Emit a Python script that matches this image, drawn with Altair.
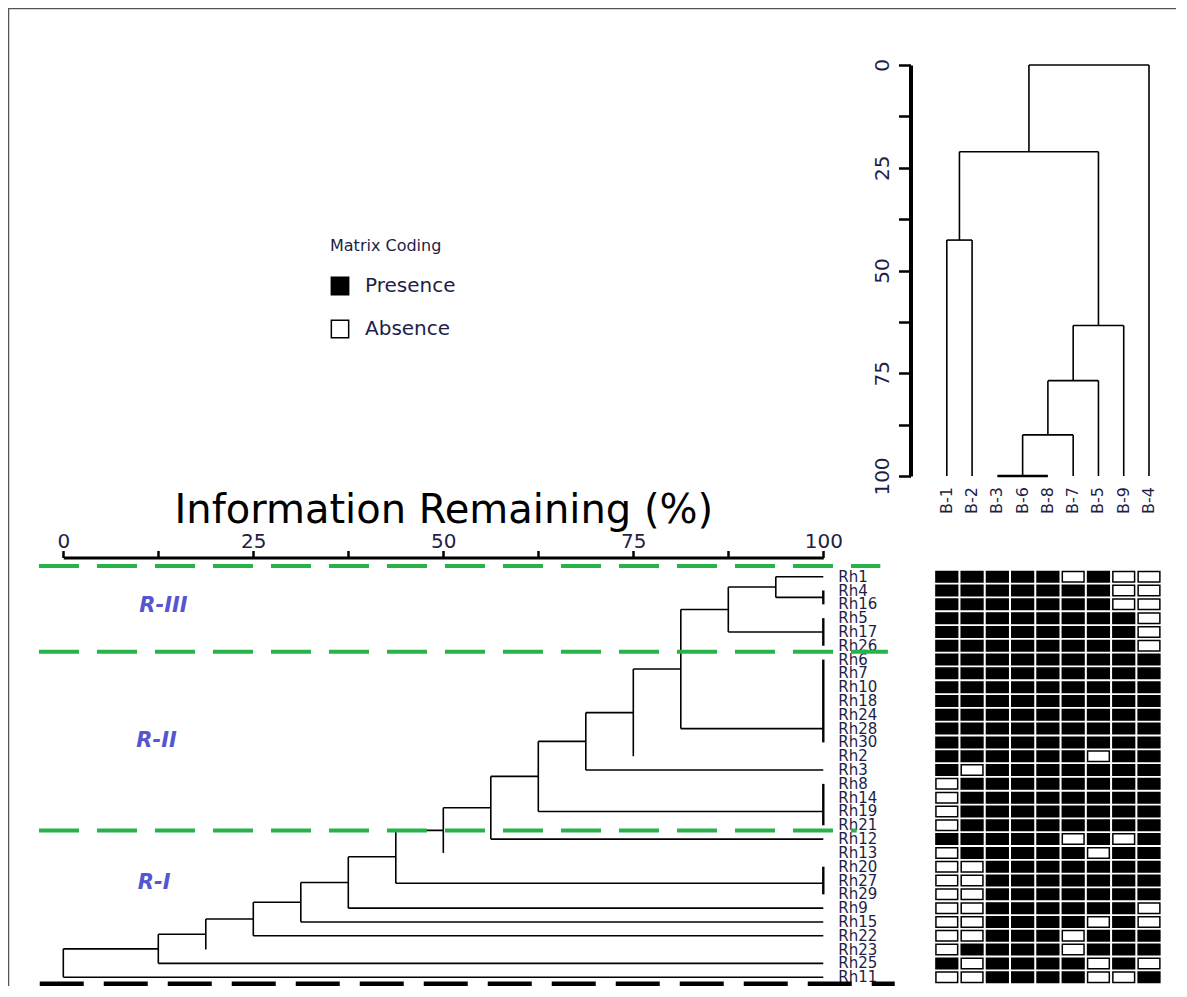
import altair as alt
import pandas as pd

# ---------------- data ----------------
row_labels = ["Rh1", "Rh4", "Rh16", "Rh5", "Rh17", "Rh26", "Rh6", "Rh7", "Rh10", "Rh18",
              "Rh24", "Rh28", "Rh30", "Rh2", "Rh3", "Rh8", "Rh14", "Rh19", "Rh21", "Rh12",
              "Rh13", "Rh20", "Rh27", "Rh29", "Rh9", "Rh15", "Rh22", "Rh23", "Rh25", "Rh11"]

col_labels = ["B-1", "B-2", "B-3", "B-6", "B-8", "B-7", "B-5", "B-9", "B-4"]

# matrix coding, one string per row (1 = presence, 0 = absence), columns in col_labels order
presence_rows = [
    "111110100",  # Rh1
    "111111100",  # Rh4
    "111111100",  # Rh16
    "111111110",  # Rh5
    "111111110",  # Rh17
    "111111110",  # Rh26
    "111111111",  # Rh6
    "111111111",  # Rh7
    "111111111",  # Rh10
    "111111111",  # Rh18
    "111111111",  # Rh24
    "111111111",  # Rh28
    "111111111",  # Rh30
    "111111011",  # Rh2
    "101111111",  # Rh3
    "011111111",  # Rh8
    "011111111",  # Rh14
    "011111111",  # Rh19
    "011111111",  # Rh21
    "111110101",  # Rh12
    "011111011",  # Rh13
    "001111111",  # Rh20
    "001111111",  # Rh27
    "001111111",  # Rh29
    "001111110",  # Rh9
    "001111010",  # Rh15
    "001110111",  # Rh22
    "011110111",  # Rh23
    "101111010",  # Rh25
    "001111001",  # Rh11
]

# row dendrogram: tips (groups of identical rows) and successive merges
row_tip_first = [0, 1, 3, 6, 13, 14, 15, 19, 20, 21, 24, 25, 26, 27, 28, 29]
row_tip_last = [0, 2, 5, 12, 13, 14, 18, 19, 20, 23, 24, 25, 26, 27, 28, 29]
row_tip_attach = [0, 1.5, 4, 11, 13, 14, 17, 19, 20, 22.2, 24, 25, 26, 27, 28, 29]
row_tip_stem = [1, 1, 1, 1, 0, 1, 1, 1, 0, 1, 1, 1, 1, 0, 1, 1]
row_merge_left = ["t0", "m0", "m1", "m2", "m3", "m4", "m5", "m6", "m7", "m8",
                  "m9", "m10", "m11", "m12", "m13"]
row_merge_right = ["t1", "t2", "t3", "t4", "t5", "t6", "t7", "t8", "t9", "t10",
                   "t11", "t12", "t13", "t14", "t15"]
row_merge_height = [93.75, 87.5, 81.25, 75.0, 68.75, 62.5, 56.25, 50.0, 43.75, 37.5,
                    31.25, 25.0, 18.75, 12.5, 0.0]

# column dendrogram
col_tip_first = [0, 1, 2, 5, 6, 7, 8]
col_tip_last = [0, 1, 4, 5, 6, 7, 8]
col_tip_attach = [0, 1, 3, 5, 6, 7, 8]
col_tip_stem = [1, 1, 1, 1, 1, 1, 1]
col_merge_left = ["t0", "t2", "m1", "m2", "m0", "m4"]
col_merge_right = ["t1", "t3", "t4", "t5", "m3", "t6"]
col_merge_height = [42.6, 90.0, 76.8, 63.4, 21.1, 0.0]

# group cut lines (row units) and their extent (% units)
cut_rows = [-0.78, 5.43, 18.37]
cut_start = [-3.2, -3.2, -3.2]
cut_end = [107.5, 108.5, 104.4]
base_rows = [29.5]
base_start = [-3.1]
base_end = [109.4]

region_names = ["R-III", "R-II", "R-I"]
region_rows = [2.1, 11.9, 22.2]
region_x = [10.0, 9.6, 9.8]

axis_ticks = [0, 12.5, 25, 37.5, 50, 62.5, 75, 87.5, 100]


def dendro_segments(first, last, attach, stem, mleft, mright, mheight, tip_h=100.0):
    segs, pos, hgt = [], {}, {}
    for i, (f, l, a) in enumerate(zip(first, last, attach)):
        pos[f"t{i}"] = a
        hgt[f"t{i}"] = tip_h
        if l > f:
            segs.append(dict(h=tip_h, h2=tip_h, p=f, p2=l, kind="bar"))
    for k, (a, b, H) in enumerate(zip(mleft, mright, mheight)):
        segs.append(dict(h=H, h2=H, p=pos[a], p2=pos[b], kind="link"))
        for c in (a, b):
            if c.startswith("t") and not stem[int(c[1:])]:
                continue
            segs.append(dict(h=H, h2=hgt[c], p=pos[c], p2=pos[c], kind="link"))
        pos[f"m{k}"] = (pos[a] + pos[b]) / 2
        hgt[f"m{k}"] = H
    return pd.DataFrame(segs)


row_seg = dendro_segments(row_tip_first, row_tip_last, row_tip_attach, row_tip_stem,
                          row_merge_left, row_merge_right, row_merge_height)
col_seg = dendro_segments(col_tip_first, col_tip_last, col_tip_attach, col_tip_stem,
                          col_merge_left, col_merge_right, col_merge_height)

cells = []
for r, s in enumerate(presence_rows):
    for c, ch in enumerate(s):
        cells.append(dict(row=r, col=c, state="Presence" if ch == "1" else "Absence"))
cell_df = pd.DataFrame(cells)

leaf_df = pd.DataFrame({"label": row_labels, "row": list(range(len(row_labels))), "h": 100.0})
colname_df = pd.DataFrame({"label": col_labels, "col": list(range(len(col_labels))), "h": 100.0})
cut_df = pd.DataFrame({"row": cut_rows, "s": cut_start, "e": cut_end})
base_df = pd.DataFrame({"row": base_rows, "s": base_start, "e": base_end})
region_df = pd.DataFrame({"name": region_names, "row": region_rows, "x": region_x})

# ---------------- scales ----------------
W, H = 1168, 978
TXT = "#1e1e48"
FONT = "DejaVu Sans"
XL = alt.Scale(domain=[0, 100], range=[55.3, 815.3], nice=False, zero=False)
YR = alt.Scale(domain=[0, 29], range=[568.7, 969.2], nice=False, zero=False)
XC = alt.Scale(domain=[0, 8], range=[938.8, 1141.0], nice=False, zero=False)
YT = alt.Scale(domain=[0, 100], range=[57, 468], nice=False, zero=False)
SW = alt.Scale(domain=["link", "bar"], range=[1.6, 2.4])

label_expr = "datum.value % 25 === 0 ? datum.label : ''"

row_rules = alt.Chart(row_seg).mark_rule(color="black").encode(
    x=alt.X("h:Q", scale=XL, axis=alt.Axis(
        orient="top", offset=-549.5, values=axis_ticks, labelExpr=label_expr,
        labelFont=FONT, labelFontSize=20, labelColor=TXT, labelPadding=3,
        labelBaseline="alphabetic", labelFlush=False, labelOverlap=False,
        tickSize=7, tickWidth=2.5, tickColor="black",
        domainWidth=2.8, domainColor="black", grid=False,
        title="Information Remaining (%)", titleFont=FONT, titleFontSize=40,
        titleFontWeight="normal", titleColor="black", titlePadding=1)),
    x2="h2:Q",
    y=alt.Y("p:Q", scale=YR, axis=None),
    y2="p2:Q",
    strokeWidth=alt.StrokeWidth("kind:N", scale=SW, legend=None),
)

leaf_text = alt.Chart(leaf_df).mark_text(
    align="left", baseline="middle", dx=15, fontSize=15, font=FONT, color=TXT
).encode(
    x=alt.X("h:Q", scale=XL, axis=None),
    y=alt.Y("row:Q", scale=YR, axis=None),
    text="label:N",
)

matrix = alt.Chart(cell_df).transform_calculate(
    c0="datum.col - 0.43", c1="datum.col + 0.43",
    r0="datum.row - 0.38", r1="datum.row + 0.38"
).mark_rect(stroke="black", strokeWidth=1.5).encode(
    x=alt.X("c0:Q", scale=XC, axis=None),
    x2="c1:Q",
    y=alt.Y("r0:Q", scale=YR, axis=None),
    y2="r1:Q",
    fill=alt.Fill("state:N", scale=alt.Scale(domain=["Presence", "Absence"], range=["black", "white"]),
                  legend=alt.Legend(title="Matrix Coding", orient="none", legendX=322, legendY=230,
                                    direction="vertical", symbolType="square", symbolSize=300,
                                    symbolStrokeColor="black", symbolStrokeWidth=1.5,
                                    labelFont=FONT, labelFontSize=20, labelColor=TXT, labelOffset=15,
                                    titleFont=FONT, titleFontSize=16, titleFontWeight="normal",
                                    titleColor=TXT, titlePadding=22, rowPadding=19, padding=0)),
)

cut_lines = alt.Chart(cut_df).mark_rule(color="#27b24a", strokeWidth=4, strokeDash=[40, 18]).encode(
    x=alt.X("s:Q", scale=XL, axis=None),
    x2="e:Q",
    y=alt.Y("row:Q", scale=YR, axis=None),
)

base_line = alt.Chart(base_df).mark_rule(color="black", strokeWidth=5, strokeDash=[44, 20]).encode(
    x=alt.X("s:Q", scale=XL, axis=None),
    x2="e:Q",
    y=alt.Y("row:Q", scale=YR, axis=None),
)

region_text = alt.Chart(region_df).mark_text(
    align="left", baseline="middle", fontSize=21, font=FONT, fontWeight="bold",
    fontStyle="italic", color="#5656d0"
).encode(
    x=alt.X("x:Q", scale=XL, axis=None),
    y=alt.Y("row:Q", scale=YR, axis=None),
    text="name:N",
)

col_rules = alt.Chart(col_seg).mark_rule(color="black").encode(
    x=alt.X("p:Q", scale=XC, axis=None),
    x2="p2:Q",
    y=alt.Y("h:Q", scale=YT, axis=alt.Axis(
        orient="left", offset=-902.5, values=axis_ticks, labelExpr=label_expr,
        labelAngle=270, labelAlign="center", labelBaseline="alphabetic",
        labelFont=FONT, labelFontSize=20, labelColor=TXT, labelPadding=10,
        labelFlush=False, labelOverlap=False,
        tickSize=12, tickWidth=2.5, tickColor="black",
        domainWidth=4, domainColor="black", grid=False, title=None)),
    y2="h2:Q",
    strokeWidth=alt.StrokeWidth("kind:N", scale=SW, legend=None),
)

col_text = alt.Chart(colname_df).mark_text(
    angle=270, align="right", baseline="middle", dx=-11, fontSize=16, font=FONT, color=TXT
).encode(
    x=alt.X("col:Q", scale=XC, axis=None),
    y=alt.Y("h:Q", scale=YT, axis=None),
    text="label:N",
)

frame_df = pd.DataFrame({"k": [0]})
top_border = alt.Chart(frame_df).mark_rule(color="#555555", strokeWidth=2.5).encode(
    x=alt.value(0), x2=alt.value(W), y=alt.value(0))
left_border = alt.Chart(frame_df).mark_rule(color="#555555", strokeWidth=2.5).encode(
    x=alt.value(0), y=alt.value(0), y2=alt.value(H))

chart = alt.layer(
    row_rules, leaf_text, matrix, cut_lines, base_line, region_text,
    col_rules, col_text, top_border, left_border
).resolve_scale(
    x="independent", y="independent"
).properties(
    width=W, height=H, padding=0, autosize=alt.AutoSizeParams(type="none")
).configure_view(stroke=None)

chart.save("out.html", embed_options={"renderer": "svg", "actions": False})
